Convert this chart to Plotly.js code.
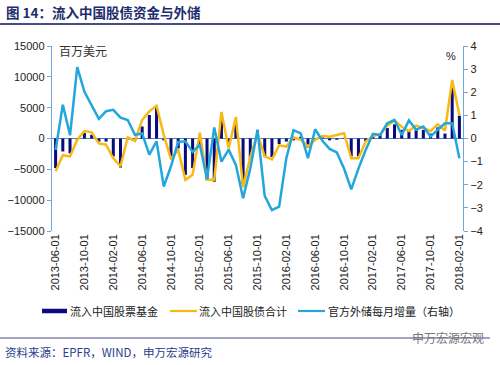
<!DOCTYPE html>
<html>
<head>
<meta charset="utf-8">
<script src="https://cdn.plot.ly/plotly-3.0.1.min.js"></script>
<style>
html,body{margin:0;padding:0;background:#fff;}
#chart{width:500px;height:365px;}
</style>
</head>
<body>
<div id="chart"></div>
<script>
// Months 2013-06 .. 2018-02
const months = [
 "2013-06-01","2013-07-01","2013-08-01","2013-09-01","2013-10-01","2013-11-01","2013-12-01",
 "2014-01-01","2014-02-01","2014-03-01","2014-04-01","2014-05-01","2014-06-01","2014-07-01","2014-08-01","2014-09-01","2014-10-01","2014-11-01","2014-12-01",
 "2015-01-01","2015-02-01","2015-03-01","2015-04-01","2015-05-01","2015-06-01","2015-07-01","2015-08-01","2015-09-01","2015-10-01","2015-11-01","2015-12-01",
 "2016-01-01","2016-02-01","2016-03-01","2016-04-01","2016-05-01","2016-06-01","2016-07-01","2016-08-01","2016-09-01","2016-10-01","2016-11-01","2016-12-01",
 "2017-01-01","2017-02-01","2017-03-01","2017-04-01","2017-05-01","2017-06-01","2017-07-01","2017-08-01","2017-09-01","2017-10-01","2017-11-01","2017-12-01",
 "2018-01-01","2018-02-01"
];
// 流入中国股票基金 (百万美元)
const equityFlow = [
 -4800,-2100,-2400,-200,900,600,-500,
 -500,-2900,-4700,-200,-300,1950,3800,5000,-300,-2900,-1600,-5900,
 -4800,-1200,-6700,-7000,3600,-1000,2400,-7400,-3500,1400,-2900,-3000,
 -900,-500,-300,300,-1500,-100,200,-300,-200,100,-2900,-2900,
 -400,300,600,1700,2300,1400,1200,1500,1400,800,1800,800,
 8200,3700
];
// 流入中国股债合计 (百万美元)
const totalFlow = [
 -5300,-2700,-2900,-200,1200,1000,-800,
 -1000,-3200,-4500,200,-400,3000,4400,5300,600,-3400,-1800,-6700,
 -5900,950,-6700,-6700,4300,-1600,3500,-7900,-3000,800,-2900,-3400,
 -1100,-1300,200,-200,-1300,-200,400,300,600,850,-3200,-3200,
 -500,400,700,2100,2900,1900,1200,2100,1700,1200,2300,1300,
 9500,3800
];
// 官方外储每月增量 (%, 右轴)
const reserveChg = [
 -0.5,1.46,0.14,3.09,2.02,1.46,0.85,
 1.18,1.24,0.9,0.8,0.16,0.22,-0.7,-0.12,-2.08,-1.2,-0.15,-0.12,
 -0.58,-0.27,-1.75,0.48,-1.0,-0.48,-1.14,-2.58,-1.3,0.37,-2.48,-3.1,
 -2.95,-0.85,0.36,0.22,-0.85,0.4,-0.1,-0.45,-0.6,-1.3,-2.2,-1.3,
 -0.5,0.2,0.15,0.66,0.8,0.15,0.78,0.38,0.52,0.08,0.38,0.66,
 0.66,-0.85
];
const tickMonths = months.filter((m,i)=> i%4===0);
const names = ["流入中国股票基金","流入中国股债合计","官方外储每月增量（右轴）"];

const NAVY = "#0b0b7c", GOLD = "#f7b914", SKY = "#22a6dc", AXIS = "#6fa8dc";
const tickFont = {family:"Arial, 'Liberation Sans', sans-serif", size:11, color:"#222"};
const cjk = "'Noto Sans CJK SC', sans-serif";

const traces = [
 {type:"bar", x:months, y:equityFlow, marker:{color:NAVY}, width:0.42, name:names[0], yaxis:"y"},
 {type:"scatter", mode:"lines", x:months, y:totalFlow, line:{color:GOLD, width:2.5}, name:names[1], yaxis:"y"},
 {type:"scatter", mode:"lines", x:months, y:reserveChg, line:{color:SKY, width:2.5}, name:names[2], yaxis:"y2"}
];

const L=52, R=463, T=46, B=231;
const px = v => (v-L)/(R-L);
const py = v => (B-v)/(B-T);

// manual legend (symbol x-range, text x)
const legendY = 311;
const legendItems = [
 {name:names[0], color:NAVY, w:4.5, x0:42, x1:67, tx:68},
 {name:names[1], color:GOLD, w:2.2, x0:170, x1:197, tx:197},
 {name:names[2], color:SKY, w:2.2, x0:298, x1:325, tx:326}
];

const annotations = [
  {text:"百万美元", xref:"paper", yref:"paper", x:px(57), y:py(50), xanchor:"left", yanchor:"middle",
   showarrow:false, font:{family:cjk, size:12, color:"#333"}},
  {text:"%", xref:"paper", yref:"paper", x:px(451), y:py(56), xanchor:"center", yanchor:"middle",
   showarrow:false, font:{family:"Arial, 'Liberation Sans', sans-serif", size:11, color:"#222"}},
  {text:"资料来源：EPFR，WIND，申万宏源研究", xref:"paper", yref:"paper", x:px(3), y:py(352),
   xanchor:"left", yanchor:"middle", showarrow:false, font:{family:cjk, size:11.5, color:"#2a3c8c"}},
  {text:"申万宏源宏观", xref:"paper", yref:"paper", x:px(486), y:py(337),
   xanchor:"right", yanchor:"middle", showarrow:false, font:{family:cjk, size:12, color:"#777"}}
];
const shapes = [
  {type:"line", xref:"paper", yref:"paper", x0:px(0), x1:px(500), y0:py(24), y1:py(24),
   line:{color:"#4b4b86", width:2}},
  {type:"line", xref:"paper", yref:"paper", x0:px(0), x1:px(490), y0:py(338), y1:py(338),
   line:{color:"#4b4b86", width:1.2}}
];
legendItems.forEach(it => {
  shapes.push({type:"line", xref:"paper", yref:"paper", x0:px(it.x0), x1:px(it.x1),
    y0:py(legendY), y1:py(legendY), line:{color:it.color, width:it.w}});
  annotations.push({text:it.name, xref:"paper", yref:"paper", x:px(it.tx), y:py(legendY),
    xanchor:"left", yanchor:"middle", showarrow:false, font:{family:cjk, size:11, color:"#222"}});
});

const layout = {
 width:500, height:365,
 margin:{l:L, r:500-R, t:T, b:365-B},
 paper_bgcolor:"#fff", plot_bgcolor:"#fff",
 showlegend:false,
 title:{text:"<b>图 14：流入中国股债资金与外储</b>", x:6/500, xanchor:"left", xref:"container",
        y:1-13/365, yanchor:"middle", yref:"container",
        font:{family:cjk, size:13.5, color:"#1c2c6e"}},
 xaxis:{type:"category", range:[-0.5,56.5], tickvals:tickMonths, ticktext:tickMonths,
        tickangle:-90, tickfont:tickFont, showgrid:false, showline:false, ticks:"", zeroline:false,
        automargin:false},
 yaxis:{range:[-15000,15000], dtick:5000, tickformat:"d", tickfont:tickFont, showgrid:false,
        showline:true, linecolor:AXIS, linewidth:1.2, ticks:"outside", ticklen:4, tickcolor:AXIS,
        zeroline:true, zerolinecolor:"#4f81bd", zerolinewidth:1.2, automargin:false},
 yaxis2:{range:[-4,4], dtick:1, overlaying:"y", side:"right", tickfont:tickFont, showgrid:false,
        showline:true, linecolor:AXIS, linewidth:1.2, ticks:"outside", ticklen:4, tickcolor:AXIS,
        zeroline:false, automargin:false},
 annotations: annotations,
 shapes: shapes
};

Plotly.newPlot("chart", traces, layout, {staticPlot:true, displayModeBar:false});
</script>
</body>
</html>
